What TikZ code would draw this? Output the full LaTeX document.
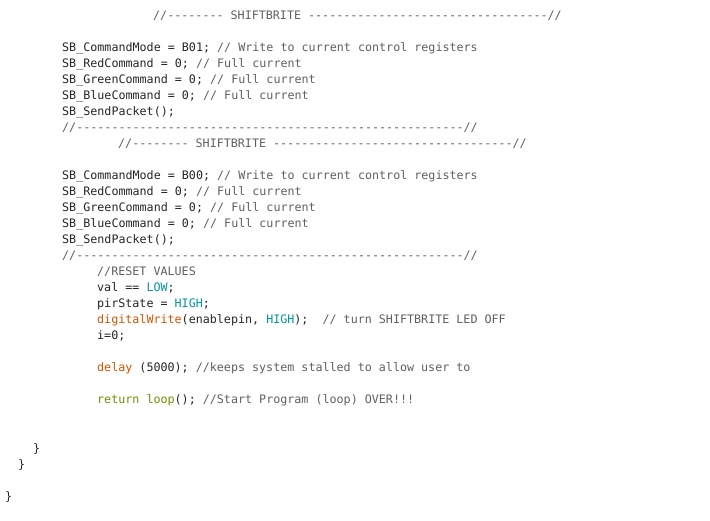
\documentclass[tikz,border=0pt]{standalone}
\usepackage{fontspec}
\setmonofont{DejaVu Sans Mono}
\definecolor{cm}{HTML}{606060}
\definecolor{kw}{HTML}{00979C}
\definecolor{fn}{HTML}{D35400}
\definecolor{rt}{HTML}{728E00}
\newcommand{\cmt}[1]{\textcolor{cm}{#1}}
\newcommand{\kwd}[1]{\textcolor{kw}{#1}}
\newcommand{\fnc}[1]{\textcolor{fn}{#1}}
\newcommand{\rtn}[1]{\textcolor{rt}{#1}}
\begin{document}
\begin{tikzpicture}[x=1pt,y=1pt,
  ln/.style={anchor=base west,inner sep=0pt,font=\fontsize{11.7}{14}\ttfamily,text=black!85}]
\useasboundingbox[fill=white] (0,0) rectangle (710,-521);
\node[ln] (l1) at (153,-20) {\cmt{//-------- SHIFTBRITE ----------------------------------//}};
\node[ln] (l2) at (62,-52) {SB\_CommandMode = B01; \cmt{// Write to current control registers}};
\node[ln] (l3) at (62,-68) {SB\_RedCommand = 0; \cmt{// Full current}};
\node[ln] (l4) at (62,-84) {SB\_GreenCommand = 0; \cmt{// Full current}};
\node[ln] (l5) at (62,-100) {SB\_BlueCommand = 0; \cmt{// Full current}};
\node[ln] (l6) at (62,-116) {SB\_SendPacket();};
\node[ln] (l7) at (62,-132) {\cmt{//-------------------------------------------------------//}};
\node[ln] (l8) at (118,-148) {\cmt{//-------- SHIFTBRITE ----------------------------------//}};
\node[ln] (l9) at (62,-180) {SB\_CommandMode = B00; \cmt{// Write to current control registers}};
\node[ln] (l10) at (62,-196) {SB\_RedCommand = 0; \cmt{// Full current}};
\node[ln] (l11) at (62,-212) {SB\_GreenCommand = 0; \cmt{// Full current}};
\node[ln] (l12) at (62,-228) {SB\_BlueCommand = 0; \cmt{// Full current}};
\node[ln] (l13) at (62,-244) {SB\_SendPacket();};
\node[ln] (l14) at (62,-260) {\cmt{//-------------------------------------------------------//}};
\node[ln] (l15) at (97,-276) {\cmt{//RESET VALUES}};
\node[ln] (l16) at (97,-292) {val == \kwd{LOW};};
\node[ln] (l17) at (97,-308) {pirState = \kwd{HIGH};};
\node[ln] (l18) at (97,-324) {\fnc{digitalWrite}(enablepin, \kwd{HIGH});\ \ \cmt{// turn SHIFTBRITE LED OFF}};
\node[ln] (l19) at (97,-340) {i=0;};
\node[ln] (l20) at (97,-372) {\fnc{delay} (5000); \cmt{//keeps system stalled to allow user to}};
\node[ln] (l21) at (97,-404) {\rtn{return} \rtn{loop}(); \cmt{//Start Program (loop) OVER!!!}};
\node[ln] (l22) at (33,-452) {\}};
\node[ln] (l23) at (18,-468) {\}};
\node[ln] (l24) at (5,-500) {\}};
\end{tikzpicture}
\end{document}
